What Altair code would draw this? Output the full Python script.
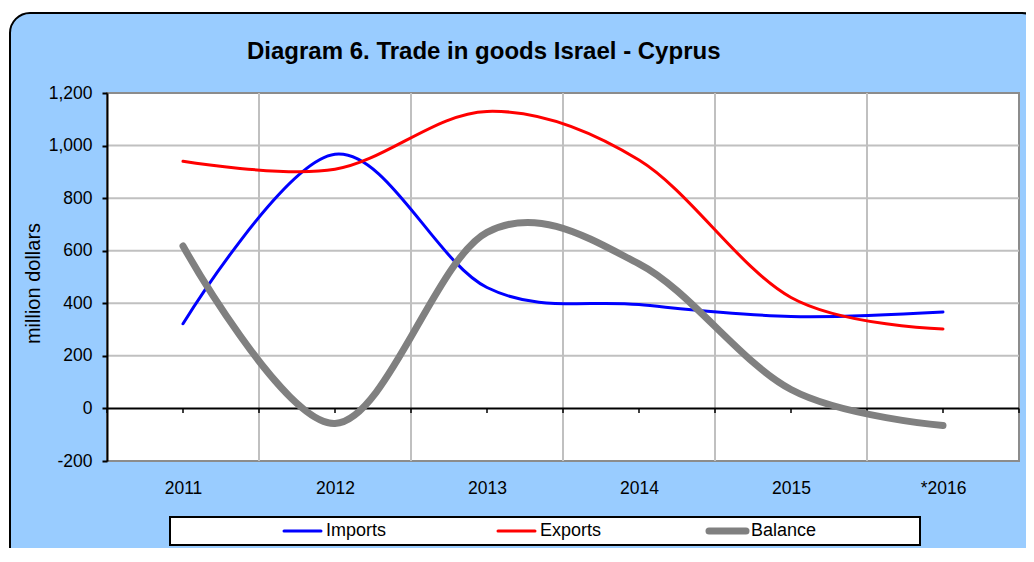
import altair as alt
import pandas as pd

years = ["2011", "2012", "2013", "2014", "2015", "*2016"]
imports = [322, 967, 460, 395, 350, 367]
exports = [940, 910, 1130, 945, 422, 302]
balance = [618, -57, 670, 550, 72, -65]
series_names = ["Imports", "Exports", "Balance"]
series_values = [imports, exports, balance]
series_colors = ["#0000FF", "#FF0000", "#808080"]
series_widths = [3, 3, 7]
y_ticks = [-200, 0, 200, 400, 600, 800, 1000, 1200]
title_text = "Diagram 6. Trade in goods Israel - Cyprus"
y_title = "million dollars"

W, H = 912, 368
FONT = "Liberation Sans"

rows = []
for name, vals in zip(series_names, series_values):
    for i, (yr, v) in enumerate(zip(years, vals)):
        rows.append({"series": name, "idx": i, "year": yr, "value": v})
df = pd.DataFrame(rows)

n = len(years)
bounds = pd.DataFrame({"idx": [i + 0.5 for i in range(n - 1)]})
zero_ticks = pd.DataFrame({"idx": [i * 0.5 - 0.5 for i in range(2 * n + 1)],
                           "value": [0] * (2 * n + 1), "value2": [-17] * (2 * n + 1)})
grid_df = pd.DataFrame({"value": [v for v in y_ticks[1:-1] if v != 0]})
zero_df = pd.DataFrame({"value": [0]})
one = pd.DataFrame({"k": [0]})

xs = alt.Scale(domain=[-0.5, n - 0.5], nice=False, zero=False)
ys = alt.Scale(domain=[min(y_ticks), max(y_ticks)], nice=False, zero=False)
label_expr = "[" + ",".join("'%s'" % y for y in years) + "][datum.value]"
y_label_expr = "datum.value < 0 ? '-' + format(-datum.value, ',.0f') : format(datum.value, ',.0f')"

x_axis = alt.Axis(values=list(range(n)), labelExpr=label_expr, title=None, grid=False,
                  ticks=False, tickSize=0, domain=False, labelFontSize=17.5, labelFont=FONT,
                  labelColor="black", labelPadding=18, zindex=1)
y_axis = alt.Axis(values=y_ticks, labelExpr=y_label_expr, title=y_title, grid=False,
                  domainColor="black", domainWidth=2, tickColor="black", tickWidth=2,
                  tickSize=5, labelFontSize=17.5, labelFont=FONT, labelColor="black",
                  labelPadding=10, titleFontSize=20, titleFont=FONT, titleFontWeight="normal",
                  titleColor="black", titleX=-74, titleY=190, titleBaseline="middle", zindex=1)

X = lambda f="idx": alt.X(f + ":Q", scale=xs, axis=x_axis)
Y = lambda f="value": alt.Y(f + ":Q", scale=ys, axis=y_axis)

bg = alt.Chart(one).mark_rect(fill="#99CCFF", stroke="black", strokeWidth=2, cornerRadius=20).encode(
    x=alt.value(-97), x2=alt.value(935), y=alt.value(-80), y2=alt.value(490))
plot_bg = alt.Chart(one).mark_rect(fill="white", stroke="#8C8C8C", strokeWidth=2).encode(
    x=alt.value(0), x2=alt.value(W), y=alt.value(0), y2=alt.value(H))
vgrid = alt.Chart(bounds).mark_rule(color="#C0C0C0", strokeWidth=2).encode(x=X())
hgrid = alt.Chart(grid_df).mark_rule(color="#C0C0C0", strokeWidth=2).encode(y=Y())
zero_line = alt.Chart(zero_df).mark_rule(color="black", strokeWidth=2).encode(y=Y())
zticks = alt.Chart(zero_ticks).mark_rule(color="black", strokeWidth=1.5).encode(
    x=X(), y=Y(), y2="value2:Q")

line_layers = []
for name, col, w in zip(series_names, series_colors, series_widths):
    line_layers.append(
        alt.Chart(df).transform_filter(alt.datum.series == name)
        .mark_line(interpolate="cardinal", strokeCap="round", strokeJoin="round",
                   strokeWidth=w, color=col)
        .encode(x=X(), y=Y())
    )

# legend (drawn as guide decoration)
legend_box = alt.Chart(one).mark_rect(fill="white", stroke="black", strokeWidth=2).encode(
    x=alt.value(63), x2=alt.value(813), y=alt.value(424), y2=alt.value(452))
legend_layers = []
LEG_Y = 438
for k, (name, col, w) in enumerate(zip(series_names, series_colors, series_widths)):
    x0 = [177, 391, 602][k]
    legend_layers.append(
        alt.Chart(one).mark_rule(color=col, strokeWidth=w, strokeCap="round").encode(
            x=alt.value(x0), x2=alt.value(x0 + 37), y=alt.value(LEG_Y), y2=alt.value(LEG_Y)))
    legend_layers.append(
        alt.Chart(one).mark_text(text=name, font=FONT, fontSize=18, align="left",
                                 baseline="middle", color="black").encode(
            x=alt.value(x0 + 42), y=alt.value(LEG_Y)))

title = alt.Chart(one).mark_text(text=title_text, font=FONT, fontSize=24, fontWeight="bold",
                                 align="left", baseline="alphabetic", color="black").encode(
    x=alt.value(140), y=alt.value(-34))

chart = alt.layer(bg, plot_bg, vgrid, hgrid, zero_line, zticks, *line_layers,
                  legend_box, *legend_layers, title).properties(
    width=W, height=H,
    autosize=alt.AutoSizeParams(type="none"),
    padding={"left": 99, "top": 85, "right": 7, "bottom": 87},
    background="white",
).configure_view(stroke=None)

chart.save("out.html", embed_options={"renderer": "svg", "actions": False})
